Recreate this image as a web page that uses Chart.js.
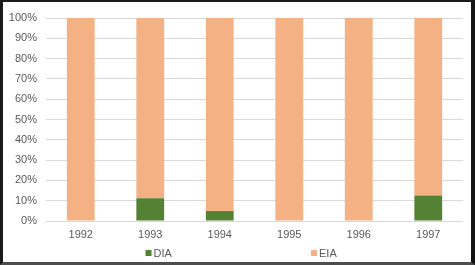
<!DOCTYPE html>
<html>
<head>
<meta charset="utf-8">
<script src="https://cdn.jsdelivr.net/npm/chart.js@4"></script>
<style>
  html, body { margin: 0; padding: 0; background: #fff; }
  .frame {
    position: absolute; left: 0; top: 0;
    width: 468px; height: 260px;
    border-top: 2px solid #1b1b1b;
    border-left: 3px solid #1b1b1b;
    border-right: 4px solid #141414;
    border-bottom: 3px solid #4d4d4d;
    background: #fff;
  }
  canvas { display: block; }
</style>
</head>
<body>
<div class="frame"><canvas id="chart" width="468" height="260"></canvas></div>
<script>
var years = ["1992", "1993", "1994", "1995", "1996", "1997"];
var diaValues = [0, 11.2, 4.9, 0, 0, 12.5];
var eiaValues = [100, 88.8, 95.1, 100, 100, 87.5];
var yTicks = [0, 10, 20, 30, 40, 50, 60, 70, 80, 90, 100];

var textColor = "#595959";

// legend spread far apart like the original, drawn under the axis
var spreadLegend = {
    id: "spreadLegend",
    afterDraw: function (chart) {
        var ctx = chart.ctx;
        var cx = chart.width / 2;
        var y = 251;
        var starts = [cx - 91.5, cx + 74];
        ctx.save();
        ctx.font = "11px 'Liberation Sans', Arial, sans-serif";
        ctx.textBaseline = "middle";
        chart.data.datasets.forEach(function (ds, i) {
            var x = starts[i];
            ctx.fillStyle = ds.backgroundColor;
            ctx.fillRect(x, y - 3, 6, 6);
            ctx.fillStyle = textColor;
            ctx.fillText(ds.label, x + 8, y + 0.5);
        });
        ctx.restore();
    }
};

var ctx = document.getElementById("chart").getContext("2d");
new Chart(ctx, {
    type: "bar",
    data: {
        labels: years,
        datasets: [
            {
                label: "DIA",
                data: diaValues,
                backgroundColor: "#548235",
                categoryPercentage: 1,
                barPercentage: 0.4
            },
            {
                label: "EIA",
                data: eiaValues,
                backgroundColor: "#F4B183",
                categoryPercentage: 1,
                barPercentage: 0.4
            }
        ]
    },
    options: {
        responsive: false,
        animation: false,
        devicePixelRatio: 1,
        layout: {
            padding: { left: 0, right: 8, top: 16, bottom: 21 }
        },
        plugins: {
            legend: { display: false },
            tooltip: { enabled: false }
        },
        scales: {
            x: {
                stacked: true,
                grid: { display: false, drawTicks: false },
                border: { display: false },
                ticks: {
                    color: textColor,
                    padding: 7,
                    font: { family: "'Liberation Sans', Arial, sans-serif", size: 11 }
                },
                afterFit: function (scale) { scale.height = 20; }
            },
            y: {
                stacked: true,
                min: 0,
                max: 100,
                afterBuildTicks: function (scale) {
                    scale.ticks = yTicks.map(function (v) { return { value: v }; });
                },
                grid: { color: "#d9d9d9", lineWidth: 1, drawTicks: false },
                border: { display: false },
                ticks: {
                    color: textColor,
                    padding: 9,
                    font: { family: "'Liberation Sans', Arial, sans-serif", size: 11 },
                    callback: function (v) { return v + "%"; }
                },
                afterFit: function (scale) { scale.width = 43; }
            }
        }
    },
    plugins: [spreadLegend]
});
</script>
</body>
</html>
